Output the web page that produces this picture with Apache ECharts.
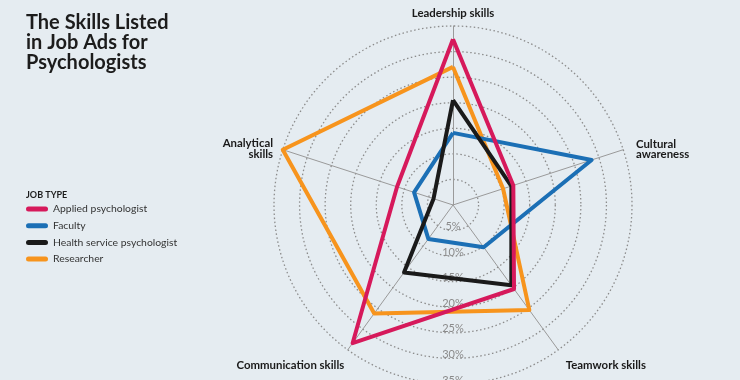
<!DOCTYPE html>
<html>
<head>
<meta charset="utf-8">
<script src="https://cdn.jsdelivr.net/npm/echarts@6/dist/echarts.min.js"></script>
<style>
html,body{margin:0;padding:0;background:#e5ecf1;}
#chart{width:740px;height:380px;}
</style>
</head>
<body>
<div id="chart"></div>
<script>
// ---- data ----
var indicators = ['Leadership skills', 'Analytical\nskills', 'Communication skills', 'Teamwork skills', 'Cultural\nawareness'];
var seriesNames = ['Applied psychologist', 'Faculty', 'Health service psychologist', 'Researcher'];
var applied = [32.4, 11.5, 33.4, 20.3, 12.4];
var faculty = [14.1, 8.0, 8.2, 10.2, 28.5];
var health = [20.5, 4.0, 16.3, 19.4, 12.0];
var researcher = [27.0, 35.0, 26.2, 25.4, 10.3];
var maxValue = 35;
var tickStep = 5;

var colors = {
  'Applied psychologist': '#d6195b',
  'Faculty': '#1b6fb5',
  'Health service psychologist': '#1a1a1a',
  'Researcher': '#f7941d'
};
var values = {
  'Applied psychologist': applied,
  'Faculty': faculty,
  'Health service psychologist': health,
  'Researcher': researcher
};
// drawing order (bottom -> top)
var drawOrder = ['Researcher', 'Faculty', 'Health service psychologist', 'Applied psychologist'];

var CX = 453, CY = 205, R = 179;
var FONT = 'Lato, "Open Sans", sans-serif';

var chart = echarts.init(document.getElementById('chart'), null, {renderer: 'canvas'});

var series = drawOrder.map(function (n) {
  return {
    type: 'radar',
    name: n,
    symbol: 'none',
    z: 3,
    itemStyle: {color: colors[n]},
    lineStyle: {color: colors[n], width: 4},
    data: [{name: n, value: values[n]}]
  };
});

var legendIcon = 'path://M2.5,0 L19.5,0 A2.5,2.5 0 0 1 19.5,5 L2.5,5 A2.5,2.5 0 0 1 2.5,0 Z';

// name label styling (per-axis nudges)
function nameRich(pad) {
  return {color: '#1a1a1a', fontFamily: FONT, fontWeight: 'bold', fontSize: 11.4, lineHeight: 13.5, padding: pad};
}
var nameKeys = ['top', 'an', 'co', 'tw', 'cu'];
var rich = {
  top: nameRich([0, 0, 0, 0]), top1: nameRich([0, 0, 0, 0]),
  an: nameRich([0, 4, 0, 0]), an1: nameRich([5, 4, 0, 0]),
  co: nameRich([22, 0, 0, 0]), co1: nameRich([22, 0, 0, 0]),
  tw: nameRich([22, 0, 0, 4]), tw1: nameRich([22, 0, 0, 4]),
  cu: nameRich([0, 0, 0, 7]), cu1: nameRich([6, 0, 0, 7])
};

chart.setOption({
  backgroundColor: '#e5ecf1',
  animation: false,
  title: [
    {
      text: 'The Skills Listed\nin Job Ads for\nPsychologists',
      left: 21, top: 8,
      textStyle: {fontFamily: FONT, fontWeight: 'bold', fontSize: 20, lineHeight: 19.7, color: '#1c1c1c'}
    },
    {
      text: 'JOB TYPE',
      left: 21, top: 186,
      textStyle: {fontFamily: FONT, fontWeight: 'bold', fontSize: 9, color: '#1c1c1c'}
    }
  ],
  legend: {
    orient: 'vertical',
    left: 21, top: 198,
    itemWidth: 22, itemHeight: 5, itemGap: 4.7,
    icon: legendIcon,
    data: seriesNames,
    selectedMode: false,
    textStyle: {fontFamily: FONT, fontSize: 10.4, lineHeight: 12, color: '#333333'}
  },
  radar: {
    center: [CX, CY],
    radius: R,
    startAngle: 90,
    shape: 'circle',
    splitNumber: maxValue / tickStep,
    indicator: indicators.map(function (t) { return {name: t, min: 0, max: maxValue}; }),
    nameGap: 6,
    axisName: {
      color: '#1a1a1a', fontFamily: FONT, fontWeight: 'bold', fontSize: 11.4, lineHeight: 13.5,
      formatter: function (name) {
        var k = nameKeys[indicators.indexOf(name)] || 'top';
        return name.split('\n').map(function (l, j) {
          return '{' + k + (j === 0 ? '1' : '') + '|' + l + '}';
        }).join('\n');
      },
      rich: rich
    },
    axisLine: {lineStyle: {color: '#9a9a9a', width: 1}},
    axisTick: {show: false},
    axisLabel: {show: false},
    splitLine: {lineStyle: {color: '#8c8c8c', width: 1.3, type: [1.5, 2.5]}},
    splitArea: {show: false}
  },
  polar: {center: [CX, CY], radius: R},
  angleAxis: {show: false, startAngle: 270, min: 0, max: 360},
  radiusAxis: {
    min: 0, max: maxValue, interval: tickStep,
    axisLine: {show: false},
    axisTick: {show: false},
    splitLine: {show: false},
    axisLabel: {
      show: true, margin: 0, align: 'center', verticalAlign: 'bottom', lineHeight: 8,
      color: '#8a8a8a', fontFamily: FONT, fontSize: 11,
      formatter: function (v) { return v === 0 ? '' : v + '%'; }
    }
  },
  series: series
});
</script>
</body>
</html>
